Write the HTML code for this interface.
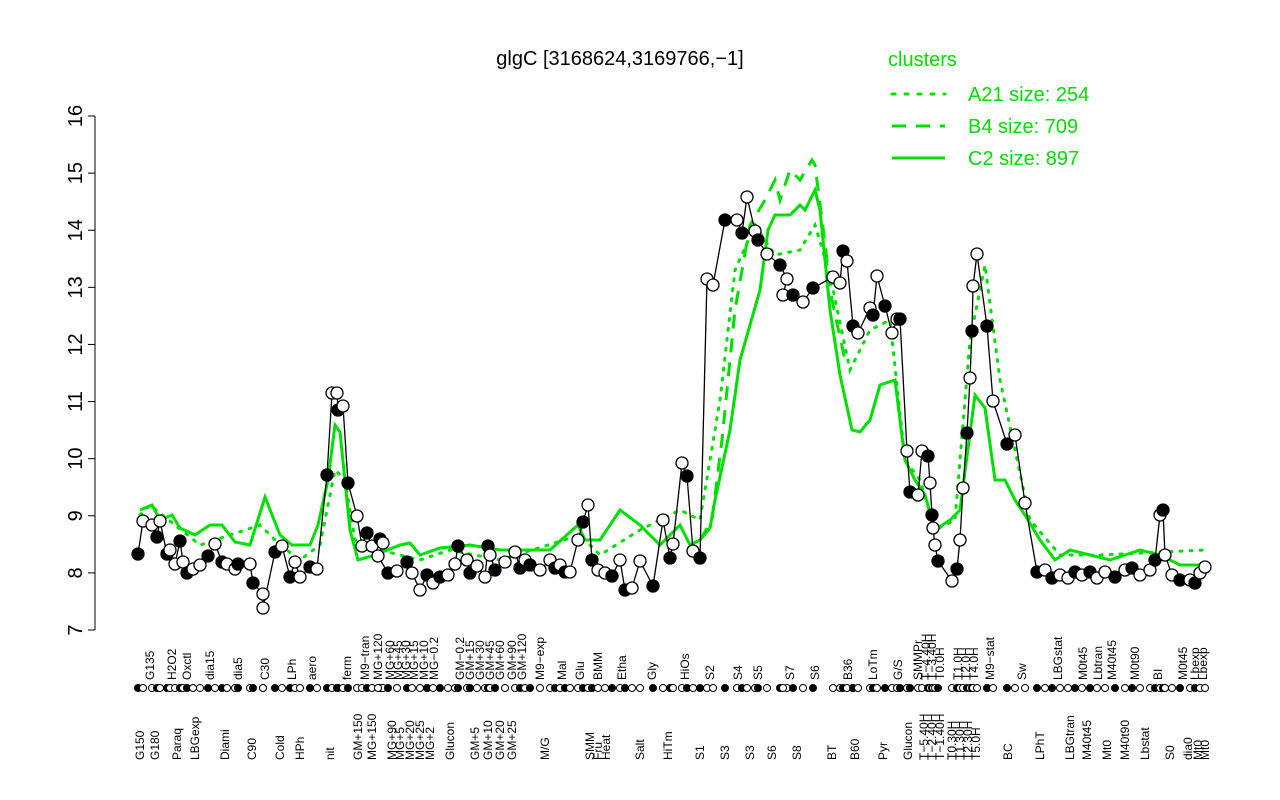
<!DOCTYPE html>
<html><head><meta charset="utf-8"><style>
body{margin:0;background:#fff;width:1280px;height:800px;overflow:hidden}
svg{display:block;font-family:"Liberation Sans",Arial,sans-serif}
</style></head><body>
<svg id="s" width="1280" height="800" xmlns="http://www.w3.org/2000/svg">
<rect width="1280" height="800" fill="#fff"/>
<text x="620" y="65" font-size="20" text-anchor="middle">glgC [3168624,3169766,−1]</text>
<line x1="95" y1="116" x2="95" y2="630" stroke="#000"/>
<g id="yt"></g>
<g id="green" fill="none" stroke="#00e000"></g>
<g id="blk"></g>
<g id="lab" font-size="12"></g>
<g font-size="20" fill="#00e000">
<text x="888" y="66">clusters</text>
<text x="968" y="101">A21 size: 254</text>
<text x="968" y="133">B4 size: 709</text>
<text x="968" y="165">C2 size: 897</text>
</g>
<g stroke="#00e000" stroke-width="3">
<line x1="892" y1="94" x2="945" y2="94" stroke-dasharray="3,10" stroke-linecap="round"/>
<line x1="892" y1="126" x2="945" y2="126" stroke-dasharray="14,10"/>
<line x1="892" y1="158" x2="945" y2="158"/>
</g>
</svg>
<script>
(function(){
var NS="http://www.w3.org/2000/svg";
function el(p,t,a,txt){var e=document.createElementNS(NS,t);for(var k in a)e.setAttribute(k,a[k]);if(txt!=null)e.textContent=txt;document.getElementById(p).appendChild(e);return e;}
for(var v=7;v<=16;v++){var y=630-(v-7)*57.11;el('yt','line',{x1:88,y1:y,x2:95,y2:y,stroke:'#000'});el('yt','text',{x:0,y:0,'font-size':20,'text-anchor':'middle',transform:'translate(82,'+y+') rotate(-90)'},v);}
function poly(pts,attrs){el('green','polyline',Object.assign({points:pts.map(function(p){return p.join(',');}).join(' ')},attrs));}
var C2=[[140,510],[152,505],[160,520],[172,515],[180,528],[195,535],[210,525],[222,525],[235,542],[250,545],[265,497],[280,535],[292,545],[310,545],[318,525],[328,480],[335,425],[340,432],[350,530],[358,560],[375,555],[400,545],[410,543],[420,555],[440,548],[470,545],[500,550],[550,550],[578,525],[585,540],[600,540],[620,510],[640,525],[660,545],[680,525],[690,545],[700,540],[710,528],[715,500],[730,430],[740,360],[760,290],[768,230],[775,215],[790,215],[800,205],[805,210],[815,190],[820,210],[830,310],[840,375],[852,430],[860,432],[870,420],[880,385],[895,380],[905,460],[915,480],[925,495],[935,530],[950,520],[960,510],[975,395],[985,408],[995,480],[1005,480],[1015,500],[1025,515],[1040,540],[1055,560],[1070,550],[1090,555],[1110,560],[1140,550],[1160,555],[1180,565],[1205,565]];
var A21=[[140,515],[150,505],[200,545],[260,525],[280,545],[300,560],[320,545],[335,470],[345,480],[355,540],[380,550],[420,560],[450,550],[500,560],[580,535],[600,555],[640,530],[680,510],[700,520],[720,400],[735,270],[755,225],[775,255],[800,250],[815,225],[830,275],[850,370],[870,330],[890,320],[905,460],[920,480],[935,530],[955,520],[970,340],[985,265],[1000,380],[1030,520],[1060,555],[1100,555],[1205,550]];
var B4=[[700,540],[712,520],[722,440],[735,310],[750,225],[765,200],[775,180],[780,200],[790,170],[800,180],[812,160],[815,165],[822,220],[832,300],[845,360]];
poly(C2,{'stroke-width':3});
poly(A21,{'stroke-width':3,'stroke-dasharray':'2,8','stroke-linecap':'round'});
poly(B4,{'stroke-width':3,'stroke-dasharray':'14,10'});
var P=[[138,554],[143,521],[152,525],[157,537],[160,521],[167,554],[170,550],[175,564],[180,541],[183,562],[187,573],[193,569],[200,565],[208,556],[215,544],[222,562],[227,564],[235,569],[238,564],[250,564],[253,583],[263,594],[263,608],[275,552],[282,546],[290,577],[295,562],[300,577],[310,567],[317,569],[327,475],[332,393],[337,393],[338,410],[343,406],[348,483],[357,516],[362,546],[367,533],[372,546],[380,539],[383,543],[378,556],[388,573],[397,571],[407,562],[412,573],[420,590],[427,575],[433,583],[440,577],[448,575],[455,564],[458,546],[467,560],[470,573],[477,566],[485,577],[488,546],[490,555],[495,570],[505,562],[515,552],[520,568],[525,560],[530,565],[540,570],[550,560],[555,568],[560,565],[565,572],[570,572],[578,540],[583,522],[588,505],[592,560],[598,570],[605,573],[612,576],[620,560],[625,590],[632,588],[640,561],[653,586],[663,520],[670,558],[673,544],[682,463],[687,476],[693,551],[700,558],[707,279],[713,285],[725,220],[737,220],[742,233],[747,197],[755,231],[758,240],[767,254],[780,265],[787,279],[783,295],[793,295],[803,302],[813,288],[833,277],[840,283],[843,251],[847,261],[853,326],[858,333],[870,308],[873,315],[877,276],[885,306],[892,333],[897,319],[900,319],[907,451],[910,492],[918,495],[922,451],[928,456],[930,483],[932,515],[933,528],[935,545],[938,561],[952,581],[957,569],[960,540],[963,488],[967,433],[970,378],[972,331],[973,286],[977,254],[987,326],[993,401],[1007,444],[1015,435],[1025,503],[1037,572],[1045,570],[1052,578],[1060,575],[1068,578],[1075,572],[1082,575],[1090,572],[1097,578],[1105,572],[1115,577],[1125,570],[1132,568],[1140,575],[1150,570],[1155,560],[1160,515],[1163,510],[1165,555],[1172,575],[1180,580],[1190,580],[1195,583],[1200,573],[1205,567]];
el('blk','polyline',{points:P.map(function(p){return p.join(',');}).join(' '),fill:'none',stroke:'#000','stroke-width':1.3});
P.forEach(function(p,i){var f=((i*7)%5)<2;el('blk','circle',{cx:p[0],cy:p[1],r:6,fill:f?'#000':'#fff',stroke:'#000','stroke-width':1.3});
el('blk','circle',{cx:p[0],cy:688,r:3.5,fill:f?'#000':'#fff',stroke:'#000','stroke-width':1});});
var topL=[[150,'G135'],[172,'H2O2'],[187,'Oxctl'],[210,'dia15'],[238,'dia5'],[265,'C30'],[292,'LPh'],[312,'aero'],[347,'ferm'],[365,'M9−tran'],[378,'MG+120'],[390,'MG+60'],[398,'MG+45'],[406,'MG+30'],[414,'MG+15'],[424,'MG+10'],[434,'MG−0.2'],[460,'GM−0.2'],[470,'GM+15'],[480,'GM+30'],[490,'GM+45'],[500,'GM+60'],[512,'GM+90'],[522,'GM+120'],[540,'M9−exp'],[562,'Mal'],[580,'Glu'],[598,'BMM'],[622,'Etha'],[652,'Gly'],[685,'HiOs'],[710,'S2'],[738,'S4'],[758,'S5'],[790,'S7'],[815,'S6'],[848,'B36'],[873,'LoTm'],[898,'G/S'],[918,'SMMPr'],[926,'T−4.40H'],[932,'T−3.40H'],[940,'T0.0H'],[958,'T1.0H'],[966,'T2.0H'],[974,'T4.0H'],[990,'M9−stat'],[1022,'Sw'],[1058,'LBGstat'],[1083,'M0t45'],[1098,'Lbtran'],[1112,'M40t45'],[1135,'M0t90'],[1158,'BI'],[1183,'M0t45'],[1195,'Lbexp'],[1203,'Lbexp']];
var botL=[[140,'G150'],[155,'G180'],[177,'Paraq'],[195,'LBGexp'],[225,'Diami'],[252,'C90'],[280,'Cold'],[300,'HPh'],[330,'nit'],[358,'GM+150'],[372,'MG+150'],[392,'MG+90'],[400,'MG+5'],[410,'MG+20'],[420,'MG+25'],[430,'MG+2'],[450,'Glucon'],[475,'GM+5'],[488,'GM+10'],[500,'GM+20'],[512,'GM+25'],[545,'M/G'],[598,'Fru'],[590,'SMM'],[606,'Heat'],[640,'Salt'],[668,'HiTm'],[700,'S1'],[725,'S3'],[750,'S3'],[772,'S6'],[797,'S8'],[832,'BT'],[855,'B60'],[883,'Pyr'],[908,'Glucon'],[924,'T−5.40H'],[932,'T−2.40H'],[940,'T−1.40H'],[952,'T0.30H'],[960,'T1.30H'],[968,'T2.30H'],[976,'T5.0H'],[1008,'BC'],[1040,'LPhT'],[1070,'LBGtran'],[1087,'M40t45'],[1107,'Mt0'],[1125,'M40t90'],[1145,'Lbstat'],[1170,'S0'],[1188,'dia0'],[1198,'Mt0'],[1205,'Mt0']];
topL.forEach(function(a){el('lab','text',{x:0,y:0,transform:'translate('+(a[0]+4)+',680) rotate(-90)'},a[1]);});
botL.forEach(function(a){el('lab','text',{x:0,y:0,transform:'translate('+(a[0]+4)+',760) rotate(-90)'},a[1]);});
})();
</script>
</body></html>
